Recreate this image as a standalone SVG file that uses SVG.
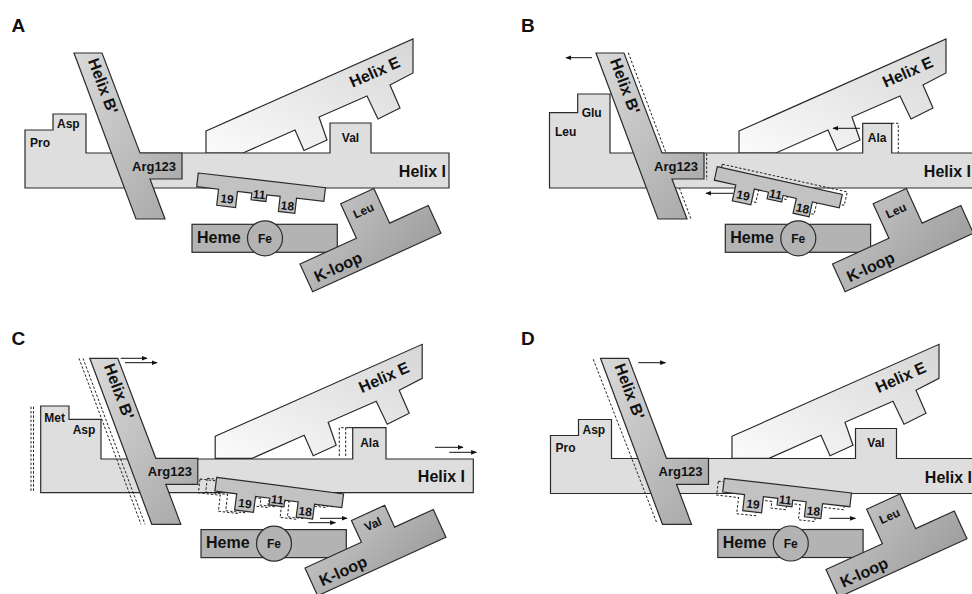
<svg xmlns="http://www.w3.org/2000/svg" xmlns:xlink="http://www.w3.org/1999/xlink" width="972" height="594" viewBox="0 0 972 594">
<style>
text{font-family:"Liberation Sans",Arial,sans-serif;font-weight:bold;fill:#111}
.lbl{font-size:19px}
.big{font-size:16px}
.med{font-size:13px}
.sm{font-size:12px}
.hi{fill:#dedede;stroke:#2b2b2b;stroke-width:1.2}
.he{fill:url(#gE);stroke:#2b2b2b;stroke-width:1.2}
.hb{fill:url(#gB);stroke:#2b2b2b;stroke-width:1.2}
.sh{fill:#c2c2c2;stroke:#2b2b2b;stroke-width:1.2}
.hm{fill:#b3b3b3;stroke:#2b2b2b;stroke-width:1.2}
.kl{fill:url(#gK);stroke:#2b2b2b;stroke-width:1.2}
.gh{fill:none;stroke:#222;stroke-width:1;stroke-dasharray:2.5 1.8}
.ar{fill:none;stroke:#111;stroke-width:1;marker-end:url(#ah)}
</style>
<defs>
<linearGradient id="gE" x1="0" y1="1" x2="1" y2="0"><stop offset="0" stop-color="#fbfbfb"/><stop offset="1" stop-color="#d6d6d6"/></linearGradient>
<linearGradient id="gB" x1="0" y1="0" x2="1" y2="1"><stop offset="0" stop-color="#dadada"/><stop offset="1" stop-color="#a6a6a6"/></linearGradient>
<linearGradient id="gK" x1="0" y1="0" x2="1" y2="1"><stop offset="0" stop-color="#c8c8c8"/><stop offset="1" stop-color="#9f9f9f"/></linearGradient>
<marker id="ah" viewBox="0 0 10 10" refX="9" refY="5" markerWidth="6" markerHeight="6" orient="auto"><path d="M0,1 L10,5 L0,9 Z" fill="#111"/></marker>
<path id="pE" d="M206,131 L413,39 L413,73 L390,85 L400,108 L378,119 L367,96 L319,117 L327,140 L304,150.5 L295,130 L243,153 L206,153 Z"/>
<path id="pB" d="M74,53 L102,53 L140,153 L182,153 L182,179 L150,179 L165,219 L136,219 Z"/>
<path id="pS" d="M0,0 L128,0 L128,13.8 L100.5,13.8 L100.5,29 L84,29 L84,13.8 L70.5,13.8 L70.5,20.5 L55.5,20.5 L55.5,13.8 L41,13.8 L41,30 L22,30 L22,13.8 L0,13.8 Z"/>
<path id="pK" d="M0,0 L62,0 L62,-38 L98.5,-38 L98.5,0 L141,0 L141,30.5 L0,30.5 Z"/>
<path id="pK2" d="M0,0 L62,0 L62,-24 L98.5,-24 L98.5,0 L141,0 L141,30.5 L0,30.5 Z"/>
</defs>
<rect width="972" height="594" fill="#fff"/>

<!-- ================= PANEL A ================= -->
<g id="panelA">
<text class="lbl" x="11.5" y="32">A</text>
<g id="A-helixE"><use xlink:href="#pE" class="he"/><text class="big" x="377" y="77" text-anchor="middle" transform="rotate(-24 377 77)">Helix E</text></g>
<g id="A-helixI">
<path class="hi" d="M25,130 L53,130 L53,114 L86,114 L86,153 L330,153 L330,123 L371,123 L371,153 L449,153 L449,188 L25,188 Z"/>
<text class="sm" x="30" y="146.5">Pro</text><text class="sm" x="57" y="128">Asp</text>
<text class="sm" x="350.5" y="141.5" text-anchor="middle">Val</text>
<text class="big" x="446" y="177" text-anchor="end">Helix I</text>
</g>
<g id="A-helixB"><use xlink:href="#pB" class="hb"/><text class="big" x="98" y="88" text-anchor="middle" transform="rotate(69.5 98 88)">Helix B'</text><text class="med" x="132" y="171">Arg123</text></g>
<g id="A-small" transform="translate(198.3,173) rotate(6.6)"><use xlink:href="#pS" class="sh"/><text class="sm" x="31.5" y="26.5" text-anchor="middle">19</text><text class="sm" x="63" y="18.5" text-anchor="middle">11</text><text class="sm" x="92.3" y="26.5" text-anchor="middle">18</text></g>
<g id="A-heme"><rect class="hm" x="192" y="224.3" width="145.3" height="28"/><circle class="hm" cx="265" cy="238.3" r="17.5"/><text class="big" x="197" y="243">Heme</text><text class="sm" x="265" y="242.5" text-anchor="middle">Fe</text></g>
<g id="A-kloop" transform="translate(300,264) rotate(-24.5)"><use xlink:href="#pK" class="kl"/><text class="big" x="8" y="24">K-loop</text><text class="sm" x="80" y="-18" text-anchor="middle">Leu</text></g>
</g>

<!-- ================= PANEL B ================= -->
<g id="panelB">
<text class="lbl" x="521" y="32">B</text>
<g id="B-helixE" transform="translate(533,0)"><use xlink:href="#pE" class="he"/><text class="big" x="377" y="77" text-anchor="middle" transform="rotate(-24 377 77)">Helix E</text></g>
<g id="B-helixI" transform="translate(524.5,0)">
<path class="hi" d="M25,112.7 L53.2,112.7 L53.2,94 L85.5,94 L85.5,153 L338.2,153 L338.2,123.3 L367.2,123.3 L367.2,153 L460,153 L460,188 L25,188 Z"/>
<text class="sm" x="30.5" y="135.5">Leu</text><text class="sm" x="57.2" y="117">Glu</text>
<text class="sm" x="352.7" y="141.5" text-anchor="middle">Ala</text>
<text class="big" x="446.5" y="177" text-anchor="end">Helix I</text>
</g>
<g id="B-ghosts"><path class="gh" d="M628.3,52.7 L666,153 M706.7,153.5 L706.7,180 M679.4,188 L691,219 M891.7,123.3 L898.3,123.3 L898.3,153"/></g>
<g id="B-helixB" transform="translate(522,0)"><use xlink:href="#pB" class="hb"/><text class="big" x="98" y="88" text-anchor="middle" transform="rotate(69.5 98 88)">Helix B'</text><text class="med" x="132" y="171">Arg123</text></g>
<use xlink:href="#pS" class="gh" transform="translate(722.3,164.2) rotate(12.5)"/>
<g id="B-small" transform="translate(717.3,166.7) rotate(12.5)"><use xlink:href="#pS" class="sh"/><text class="sm" x="31.5" y="26.5" text-anchor="middle">19</text><text class="sm" x="63" y="18.5" text-anchor="middle">11</text><text class="sm" x="92.3" y="26.5" text-anchor="middle">18</text></g>
<g id="B-heme" transform="translate(533.3,0)"><rect class="hm" x="192" y="224.3" width="145.3" height="28"/><circle class="hm" cx="265" cy="238.3" r="17.5"/><text class="big" x="197" y="243">Heme</text><text class="sm" x="265" y="242.5" text-anchor="middle">Fe</text></g>
<g id="B-kloop" transform="translate(832.5,264) rotate(-24.5)"><use xlink:href="#pK" class="kl"/><text class="big" x="8" y="24">K-loop</text><text class="sm" x="80" y="-18" text-anchor="middle">Leu</text></g>
</g>

<!-- ================= PANEL C ================= -->
<g id="panelC">
<text class="lbl" x="11.5" y="345">C</text>
<g id="C-helixE" transform="translate(9.2,305.3)"><use xlink:href="#pE" class="he"/><text class="big" x="377" y="77" text-anchor="middle" transform="rotate(-24 377 77)">Helix E</text></g>
<g id="C-helixI">
<path class="hi" d="M40.7,406 L69,406 L69,419.3 L101,419.3 L101,459 L352.7,459 L352.7,427.7 L386,427.7 L386,459 L473.3,459 L473.3,492.7 L40.7,492.7 Z"/>
<text class="sm" x="44.3" y="421.5">Met</text><text class="sm" x="72.7" y="433.5">Asp</text>
<text class="sm" x="369.5" y="446.7" text-anchor="middle">Ala</text>
<text class="big" x="465" y="481.5" text-anchor="end">Helix I</text>
</g>
<g id="C-ghosts"><path class="gh" d="M31,406.7 V492.7 M33.5,406.7 V492.7 M79,358.3 L141,524.3 M83,358.3 L145,524.3 M339.3,456 V427.7 H352.7 M345.7,456 V427.7 H352.7"/></g>
<g id="C-helixB" transform="translate(15.8,305.3)"><use xlink:href="#pB" class="hb"/><text class="big" x="98" y="88" text-anchor="middle" transform="rotate(69.5 98 88)">Helix B'</text><text class="med" x="132" y="171">Arg123</text></g>
<use xlink:href="#pS" class="gh" transform="translate(207.3,478.3) rotate(6.6)"/>
<use xlink:href="#pS" class="gh" transform="translate(200,479) rotate(6.6)"/>
<g id="C-small" transform="translate(216.7,477.3) rotate(7.5)"><use xlink:href="#pS" class="sh"/><text class="sm" x="31.5" y="26.5" text-anchor="middle">19</text><text class="sm" x="63" y="18.5" text-anchor="middle">11</text><text class="sm" x="92.3" y="26.5" text-anchor="middle">18</text></g>
<g id="C-heme" transform="translate(9,305.3)"><rect class="hm" x="192" y="224.3" width="145.3" height="28"/><circle class="hm" cx="265" cy="238.3" r="17.5"/><text class="big" x="197" y="243">Heme</text><text class="sm" x="265" y="242.5" text-anchor="middle">Fe</text></g>
<g id="C-kloop" transform="translate(305,568) rotate(-24.5)"><use xlink:href="#pK2" class="kl"/><text class="big" x="8" y="24">K-loop</text><text class="sm" x="80" y="-7.5" text-anchor="middle">Val</text></g>
</g>

<!-- ================= PANEL D ================= -->
<g id="panelD">
<text class="lbl" x="521" y="345">D</text>
<g id="D-helixE" transform="translate(526,305.3)"><use xlink:href="#pE" class="he"/><text class="big" x="377" y="77" text-anchor="middle" transform="rotate(-24 377 77)">Helix E</text></g>
<g id="D-helixI" transform="translate(525.5,305.5)">
<path class="hi" d="M25,130 L53,130 L53,114 L86,114 L86,153 L330,153 L330,123 L371,123 L371,153 L460,153 L460,188 L25,188 Z"/>
<text class="sm" x="30" y="146.5">Pro</text><text class="sm" x="57" y="128">Asp</text>
<text class="sm" x="350.5" y="141.5" text-anchor="middle">Val</text>
<text class="big" x="446.5" y="177" text-anchor="end">Helix I</text>
</g>
<g id="D-ghosts"><path class="gh" d="M593.3,359.3 L656.7,522.7"/></g>
<g id="D-helixB" transform="translate(526.5,305.3)"><use xlink:href="#pB" class="hb"/><text class="big" x="98" y="88" text-anchor="middle" transform="rotate(69.5 98 88)">Helix B'</text><text class="med" x="132" y="171">Arg123</text></g>
<use xlink:href="#pS" class="gh" transform="translate(718.3,481.3) rotate(6.6)"/>
<g id="D-small" transform="translate(724.3,478.3) rotate(6.6)"><use xlink:href="#pS" class="sh"/><text class="sm" x="31.5" y="26.5" text-anchor="middle">19</text><text class="sm" x="63" y="18.5" text-anchor="middle">11</text><text class="sm" x="92.3" y="26.5" text-anchor="middle">18</text></g>
<g id="D-heme" transform="translate(525.8,305.2)"><rect class="hm" x="192" y="224.3" width="145.3" height="28"/><circle class="hm" cx="265" cy="238.3" r="17.5"/><text class="big" x="197" y="243">Heme</text><text class="sm" x="265" y="242.5" text-anchor="middle">Fe</text></g>
<g id="D-kloop" transform="translate(826,569.5) rotate(-24.5)"><use xlink:href="#pK" class="kl"/><text class="big" x="8" y="24">K-loop</text><text class="sm" x="80" y="-18" text-anchor="middle">Leu</text></g>
</g>

<!-- ================= MOTION ARROWS ================= -->
<g id="connectors">
<path class="ar" d="M592,57.7 H566"/>
<path class="ar" d="M860,128.3 H833"/>
<path class="ar" d="M733,193.3 H706"/>
<path class="ar" d="M120.7,358.3 H147"/>
<path class="ar" d="M125,362.7 H157"/>
<path class="ar" d="M435,447.3 H463"/>
<path class="ar" d="M449.3,452.3 H476.5"/>
<path class="ar" d="M320,518.3 H347"/>
<path class="ar" d="M308.3,522.7 H335.5"/>
<path class="ar" d="M638.3,362.7 H665.5"/>
<path class="ar" d="M829.3,518.3 H855.5"/>
</g>
</svg>
